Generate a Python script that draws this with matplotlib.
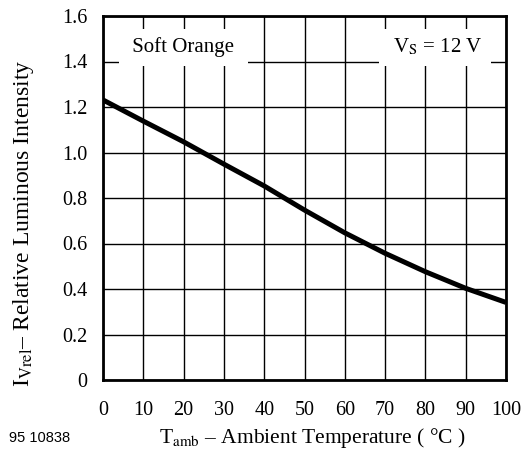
import matplotlib

matplotlib.use("Agg")
import matplotlib.pyplot as plt

# data
temp = [0, 10, 20, 30, 40, 50, 60, 70, 80, 90, 100]
rel_intensity = [1.231, 1.138, 1.047, 0.949, 0.853, 0.747, 0.647, 0.557, 0.476, 0.403, 0.341]

x_ticks = [0, 10, 20, 30, 40, 50, 60, 70, 80, 90, 100]
y_ticks = [0, 0.2, 0.4, 0.6, 0.8, 1.0, 1.2, 1.4, 1.6]
y_ticklabels = ["0", "0.2", "0.4", "0.6", "0.8", "1.0", "1.2", "1.4", "1.6"]

plt.rcParams["font.family"] = ["Liberation Serif", "DejaVu Serif"]
plt.rcParams["mathtext.fontset"] = "stix"

fig = plt.figure(figsize=(5.29, 4.55), dpi=100)
ax = fig.add_axes([103 / 529, 75 / 455, 403 / 529, 364 / 455])

ax.plot(temp, rel_intensity, color="black", lw=3.6, solid_capstyle="butt", zorder=3)

ax.set_xlim(0, 100)
ax.set_ylim(0, 1.6)
ax.set_xticks(x_ticks)
ax.set_yticks(y_ticks)
ax.set_yticklabels(y_ticklabels)
ax.tick_params(length=0, labelsize=14.5, pad=11)
ax.tick_params(axis="x", pad=15)
ax.grid(True, color="black", lw=1.0)
ax.set_axisbelow(True)
for s in ax.spines.values():
    s.set_linewidth(2.0)
    s.set_zorder(4)

fig.text(24 / 529, 1 - 223 / 455, r"I$_{\mathrm{Vrel}}$– Relative Luminous Intensity",
         fontsize=17, rotation=90, ha="center", va="center")
fig.text(312 / 529, 1 - 438 / 455, r"T$_{\mathrm{amb}}$ – Ambient Temperature ( °C )",
         fontsize=15.5, ha="center", va="center")
fig.text(9 / 529, 1 - 438 / 455, "95 10838", fontsize=10.5, ha="left", va="center",
         family="Liberation Sans")

box = dict(facecolor="white", edgecolor="none", pad=6)
ax.text(20, 1.462, " Soft Orange ", fontsize=15, ha="center", va="center", bbox=box, zorder=2)
ax.text(82.4, 1.462, r" V$_{\mathrm{S}}$ = 12 V ", fontsize=15, ha="center", va="center",
        bbox=box, zorder=2)

fig.savefig("out.png", dpi=100)
